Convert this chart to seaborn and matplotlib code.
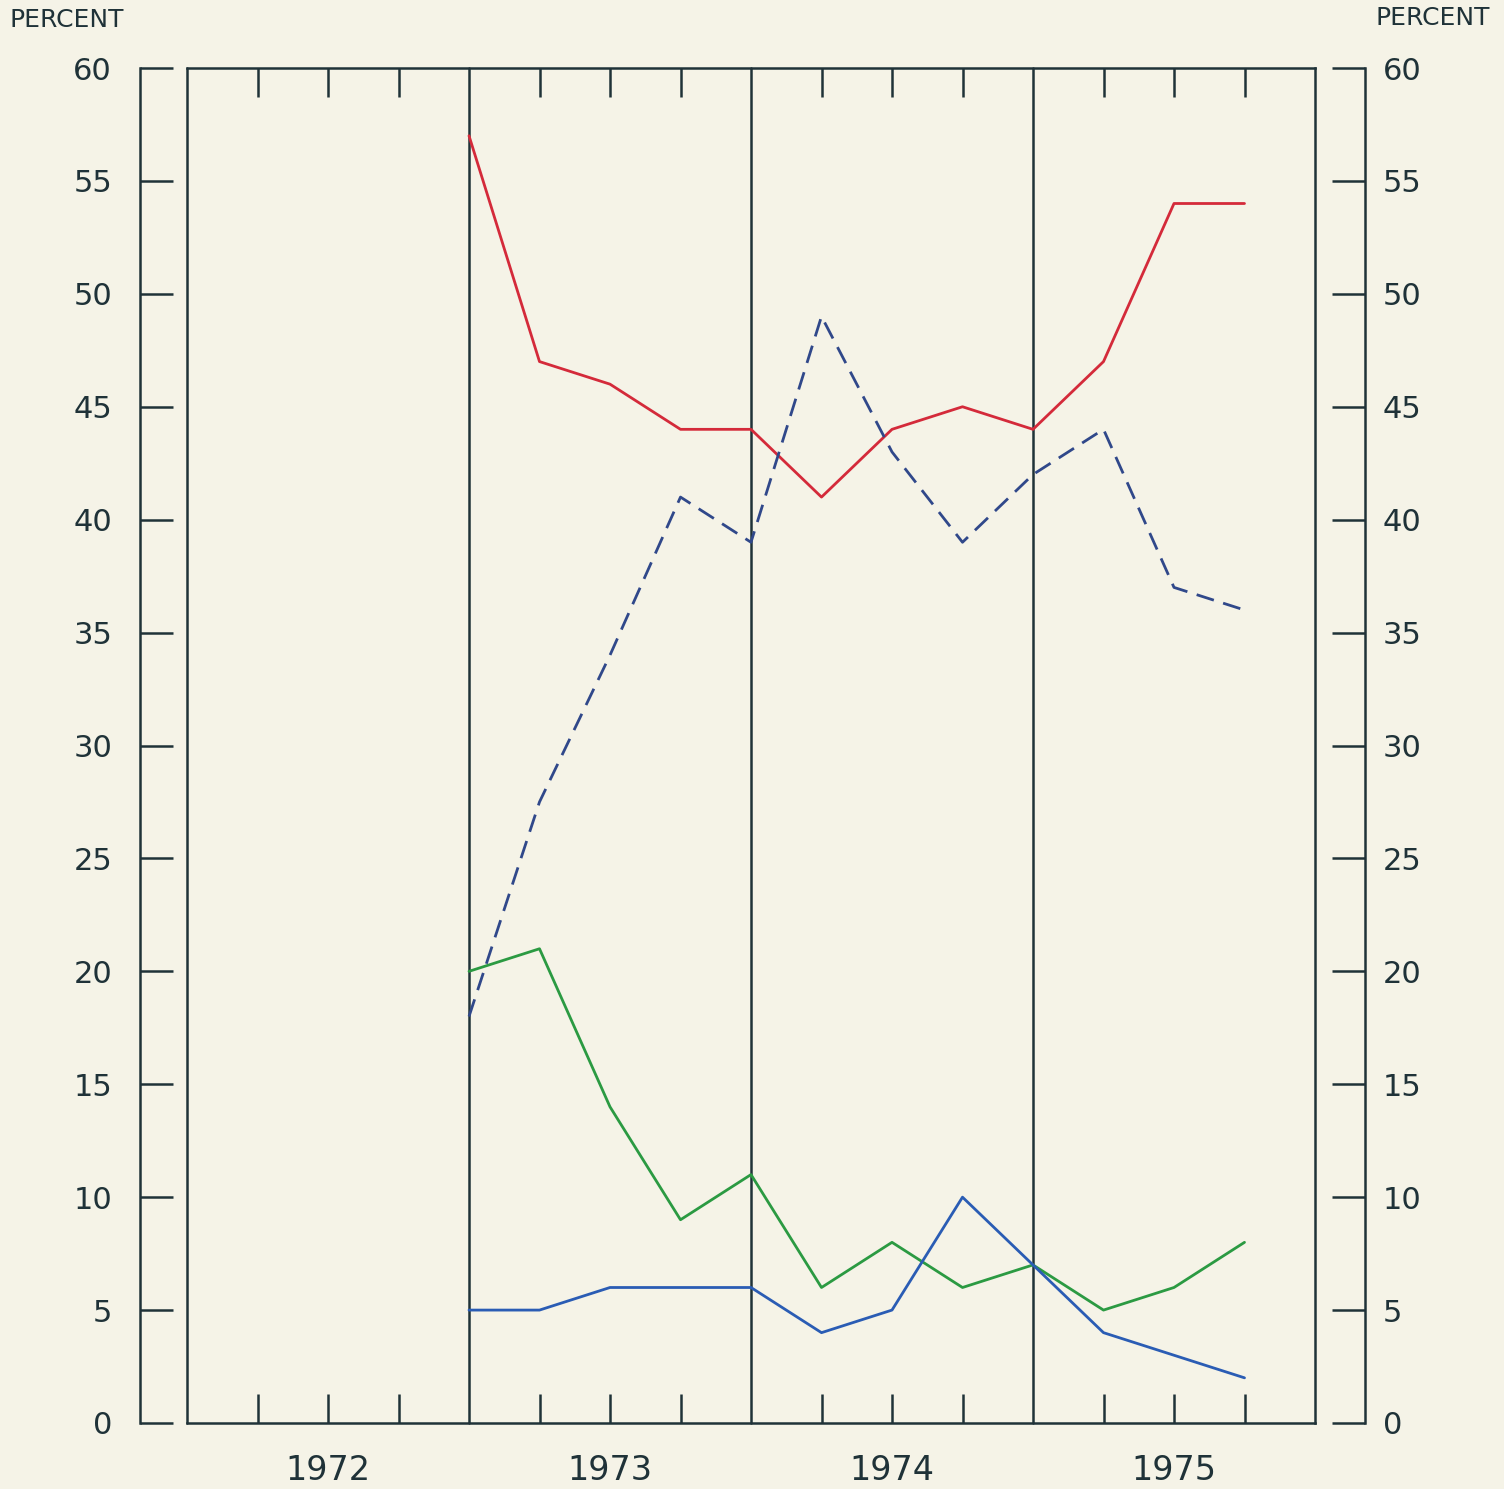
import matplotlib
matplotlib.use("Agg")
import matplotlib.pyplot as plt
import matplotlib.transforms as mtransforms
import seaborn as sns
import pandas as pd

# ---- data ----
years = ["1972", "1973", "1974", "1975"]
quarter_pos = [4, 5, 6, 7, 8, 9, 10, 11, 12, 13, 14, 15]  # quarter index from start of 1972
red_vals = [57, 47, 46, 44, 44, 41, 44, 45, 44, 47, 54, 54]
dashed_vals = [18, 27.5, 34, 41, 39, 49, 43, 39, 42, 44, 37, 36]
green_vals = [20, 21, 14, 9, 11, 6, 8, 6, 7, 5, 6, 8]
blue_vals = [5, 5, 6, 6, 6, 4, 5, 10, 7, 4, 3, 2]
y_ticks = list(range(0, 61, 5))

series = {"red": red_vals, "dashed": dashed_vals, "green": green_vals, "blue": blue_vals}
rows = []
for name, vals in series.items():
    for q, v in zip(quarter_pos, vals):
        rows.append({"q": q, "value": v, "series": name})
df = pd.DataFrame(rows)

BG = "#f5f3e7"
AX = "#1f3238"
palette = {"red": "#d42a3a", "dashed": "#30488a", "green": "#2b9a42", "blue": "#2a5cb4"}
dashes = {"red": "", "dashed": (6.5, 3.5), "green": "", "blue": ""}

sns.set_style("ticks")
plt.rcParams["font.family"] = ["DejaVu Sans"]

W, H = 1504, 1489
fig = plt.figure(figsize=(W / 100, H / 100), dpi=100, facecolor=BG)
ax = fig.add_axes([187 / W, 1 - 1423 / H, 1128 / W, 1355 / H], facecolor=BG)

sns.lineplot(data=df, x="q", y="value", hue="series", style="series",
             palette=palette, dashes=dashes, linewidth=2.0, legend=False,
             ax=ax, zorder=3)

nq = 4 * len(years)
ax.set_xlim(0, nq)
ax.set_ylim(0, 60)
ax.set_xlabel("")
ax.set_ylabel("")

# box & year separators
for s in ["top", "bottom", "right"]:
    ax.spines[s].set_color(AX)
    ax.spines[s].set_linewidth(1.8)
ax.spines["left"].set_position(("outward", 34))
ax.spines["left"].set_color(AX)
ax.spines["left"].set_linewidth(1.8)
for b in range(0, nq, 4):
    ax.axvline(b, color=AX, lw=1.8, zorder=2, clip_on=False)

# x ticks: quarter ticks on top/bottom
major = [q for q in range(1, nq) if q % 4 != 0]
ax.set_xticks(major)
ax.set_xticklabels([])
ax.tick_params(axis="x", which="major", direction="in", length=21, width=1.8,
               color=AX, top=True, bottom=True)

# year labels centred under each year
trans = mtransforms.blended_transform_factory(ax.transData, ax.transAxes)
for i, yr in enumerate(years):
    ax.text(4 * i + 2, -47 / 1355, yr, transform=trans, ha="center", va="center",
            fontsize=24, color=AX)

# left y axis
ax.set_yticks(y_ticks)
ax.set_yticklabels([str(t) for t in y_ticks])
ax.tick_params(axis="y", direction="in", length=24, width=1.8, color=AX,
               pad=20, labelsize=22, labelcolor=AX)

# right y axis
ax2 = ax.twinx()
ax2.set_ylim(0, 60)
for s in ["top", "bottom", "left"]:
    ax2.spines[s].set_visible(False)
ax2.spines["right"].set_position(("outward", 36))
ax2.spines["right"].set_color(AX)
ax2.spines["right"].set_linewidth(1.8)
ax2.set_yticks(y_ticks)
ax2.set_yticklabels([str(t) for t in y_ticks])
ax2.tick_params(axis="y", direction="in", length=24, width=1.8, color=AX,
                pad=13, labelsize=22, labelcolor=AX)

fig.text(10 / W, 1 - 20 / H, "PERCENT", ha="left", va="center", fontsize=18, color=AX)
fig.text(1490 / W, 1 - 18 / H, "PERCENT", ha="right", va="center", fontsize=18, color=AX)

fig.savefig("out.png", dpi=100, facecolor=BG)
